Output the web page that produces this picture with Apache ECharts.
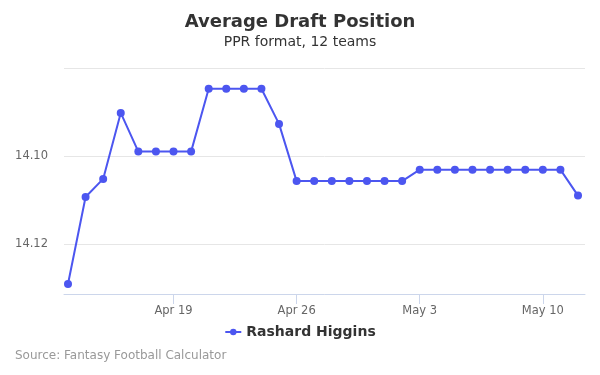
<!DOCTYPE html>
<html><head><meta charset="utf-8">
<script src="https://cdn.jsdelivr.net/npm/echarts@6/dist/echarts.min.js"></script>
<style>html,body{margin:0;padding:0;background:#fff}#c{width:600px;height:375px}</style>
</head><body><div id="c"></div>
<script>
const dates = ["Apr 13","Apr 14","Apr 15","Apr 16","Apr 17","Apr 18","Apr 19","Apr 20","Apr 21","Apr 22","Apr 23","Apr 24","Apr 25","Apr 26","Apr 27","Apr 28","Apr 29","Apr 30","May 1","May 2","May 3","May 4","May 5","May 6","May 7","May 8","May 9","May 10","May 11","May 12"];
const adp = [14.1291,14.1093,14.1052,14.0902,14.0990,14.0990,14.0990,14.0990,14.0847,14.0847,14.0847,14.0847,14.0927,14.1057,14.1057,14.1057,14.1057,14.1057,14.1057,14.1057,14.1031,14.1031,14.1031,14.1031,14.1031,14.1031,14.1031,14.1031,14.1031,14.1090];
const xTickIdx = [6,13,20,27];
const yTickLabels = [14.10,14.12];
const seriesName = "Rashard Higgins";

const font = "DejaVu Sans";
const chart = echarts.init(document.getElementById('c'), null, {renderer:'canvas'});
chart.setOption({
  animation:false,
  textStyle:{fontFamily:font},
  title:{text:"Average Draft Position", subtext:"PPR format, 12 teams", left:'center', top:8, itemGap:4,
    textStyle:{fontFamily:font,fontSize:18,fontWeight:'bold',color:'#333'},
    subtextStyle:{fontFamily:font,fontSize:14,color:'#333'}},
  legend:{top:320,left:'center',itemWidth:16,itemHeight:8,
    textStyle:{fontFamily:font,fontSize:14,fontWeight:'bold',color:'#333'}},
  graphic:[{type:'text',left:15,top:350,style:{text:"Source: Fantasy Football Calculator",fill:'#999',font:'12px "DejaVu Sans"'}}],
  grid:{left:64,right:15,top:68,bottom:81},
  xAxis:{type:'value',min:-0.227,max:29.398,
    axisLine:{show:true,lineStyle:{color:'#ccd6eb'}},
    axisTick:{show:true,customValues:xTickIdx,length:10,lineStyle:{color:'#ccd6eb'}},
    axisLabel:{customValues:xTickIdx,formatter:v=>dates[Math.round(v)],color:'#666',fontSize:11.5,margin:11,fontFamily:font},
    splitLine:{show:false}},
  yAxis:{type:'value',inverse:true,min:14.08,max:14.13136,interval:0.02,
    axisLine:{show:false},axisTick:{show:false},
    axisLabel:{customValues:yTickLabels,formatter:v=>v.toFixed(2),color:'#666',fontSize:11.5,margin:16,fontFamily:font,padding:[2,0,0,0]},
    splitLine:{lineStyle:{color:'#e6e6e6'}}},
  series:[{name:seriesName,type:'line',data:adp.map((v,i)=>[i,v]),
    symbol:'circle',symbolSize:8,
    lineStyle:{color:'#4c56f0',width:2},itemStyle:{color:'#4c56f0'}}]
});
</script></body></html>
